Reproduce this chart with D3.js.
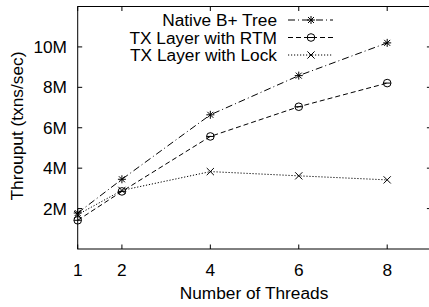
<!DOCTYPE html>
<html><head><meta charset="utf-8">
<script src="https://cdn.jsdelivr.net/npm/d3@7"></script>
<style>body{margin:0;background:#fff}svg{display:block}text{font-family:"Liberation Sans",Arial,Helvetica,sans-serif;fill:#000}</style>
</head><body><svg id="c" width="429" height="307"></svg>
<script>
const threads = [1, 2, 4, 6, 8];
const nativeBTree = [1.78, 3.45, 6.64, 8.58, 10.2];
const txRTM = [1.42, 2.85, 5.57, 7.04, 8.21];
const txLock = [1.7, 2.9, 3.83, 3.62, 3.42];
const xTicks = [1, 2, 4, 6, 8];
const yTicks = [2, 4, 6, 8, 10];
const yTickLabels = ["2M", "4M", "6M", "8M", "10M"];
const seriesNames = ["Native B+ Tree", "TX Layer with RTM", "TX Layer with Lock"];

const svg = d3.select("#c");
const L = 77.7, R = 431.4, T = 6.5, B = 249;
const x = d3.scaleLinear().domain([1, 9]).range([L, R]);
const y = d3.scaleLinear().domain([0, 12]).range([B, T]);
const fs = 17.3;

// frame
svg.append("rect").attr("x", L).attr("y", T).attr("width", R - L).attr("height", B - T)
  .attr("fill", "none").attr("stroke", "#000").attr("stroke-width", 1);

const tl = 4.5;
const g = svg.append("g").attr("stroke", "#000").attr("stroke-width", 1);
xTicks.forEach(t => {
  g.append("line").attr("x1", x(t)).attr("x2", x(t)).attr("y1", B).attr("y2", B - tl);
  g.append("line").attr("x1", x(t)).attr("x2", x(t)).attr("y1", T).attr("y2", T + tl);
});
yTicks.forEach(t => {
  g.append("line").attr("x1", L).attr("x2", L + tl).attr("y1", y(t)).attr("y2", y(t));
  g.append("line").attr("x1", R).attr("x2", R - tl).attr("y1", y(t)).attr("y2", y(t));
});
xTicks.forEach(t => {
  svg.append("text").attr("x", x(t)).attr("y", 276).attr("text-anchor", "middle")
    .attr("font-size", fs).text(t);
});
yTicks.forEach((t, i) => {
  svg.append("text").attr("x", 67).attr("y", y(t) + 6).attr("text-anchor", "end")
    .attr("font-size", fs).text(yTickLabels[i]);
});
svg.append("text").attr("x", 254).attr("y", 299).attr("text-anchor", "middle")
  .attr("font-size", fs).text("Number of Threads");
svg.append("text").attr("transform", "translate(23,126) rotate(-90)").attr("text-anchor", "middle")
  .attr("font-size", fs).text("Throuput (txns/sec)");

// markers
function star(sel, cx, cy) {
  const s = 4;
  const p = sel.append("g").attr("stroke", "#000").attr("stroke-width", 1).attr("fill", "none");
  p.append("line").attr("x1", cx - s).attr("x2", cx + s).attr("y1", cy).attr("y2", cy);
  p.append("line").attr("x1", cx).attr("x2", cx).attr("y1", cy - s).attr("y2", cy + s);
  p.append("line").attr("x1", cx - s*0.75).attr("x2", cx + s*0.75).attr("y1", cy - s*0.75).attr("y2", cy + s*0.75);
  p.append("line").attr("x1", cx - s*0.75).attr("x2", cx + s*0.75).attr("y1", cy + s*0.75).attr("y2", cy - s*0.75);
}
function circ(sel, cx, cy) {
  const r = 3.8;
  const p = sel.append("g").attr("stroke", "#000").attr("stroke-width", 1).attr("fill", "none");
  p.append("circle").attr("cx", cx).attr("cy", cy).attr("r", r);
  p.append("line").attr("x1", cx - r).attr("x2", cx + r).attr("y1", cy).attr("y2", cy);
}
function cross(sel, cx, cy) {
  const s = 3.6;
  const p = sel.append("g").attr("stroke", "#000").attr("stroke-width", 1).attr("fill", "none");
  p.append("line").attr("x1", cx - s).attr("x2", cx + s).attr("y1", cy - s).attr("y2", cy + s);
  p.append("line").attr("x1", cx - s).attr("x2", cx + s).attr("y1", cy + s).attr("y2", cy - s);
}

const series = [
  {vals: nativeBTree, dash: "7,3,1,3", mark: star},
  {vals: txRTM, dash: "5,3", mark: circ},
  {vals: txLock, dash: "1.2,1.8", mark: cross}
];
const line = d3.line().x(d => x(d[0])).y(d => y(d[1]));
series.forEach((s, i) => {
  const pts = threads.map((t, j) => [t, s.vals[j]]);
  svg.append("path").attr("d", line(pts)).attr("fill", "none").attr("stroke", "#000")
    .attr("stroke-width", 1).attr("stroke-dasharray", s.dash);
  pts.forEach(p => s.mark(svg, x(p[0]), y(p[1])));
  // legend
  const ly = 20 + i * 17.5;
  svg.append("text").attr("x", 277).attr("y", ly + 6).attr("text-anchor", "end")
    .attr("font-size", fs).text(seriesNames[i]);
  svg.append("line").attr("x1", 288).attr("x2", 333).attr("y1", ly).attr("y2", ly)
    .attr("stroke", "#000").attr("stroke-width", 1).attr("stroke-dasharray", s.dash);
  s.mark(svg, 311, ly);
});
</script></body></html>
